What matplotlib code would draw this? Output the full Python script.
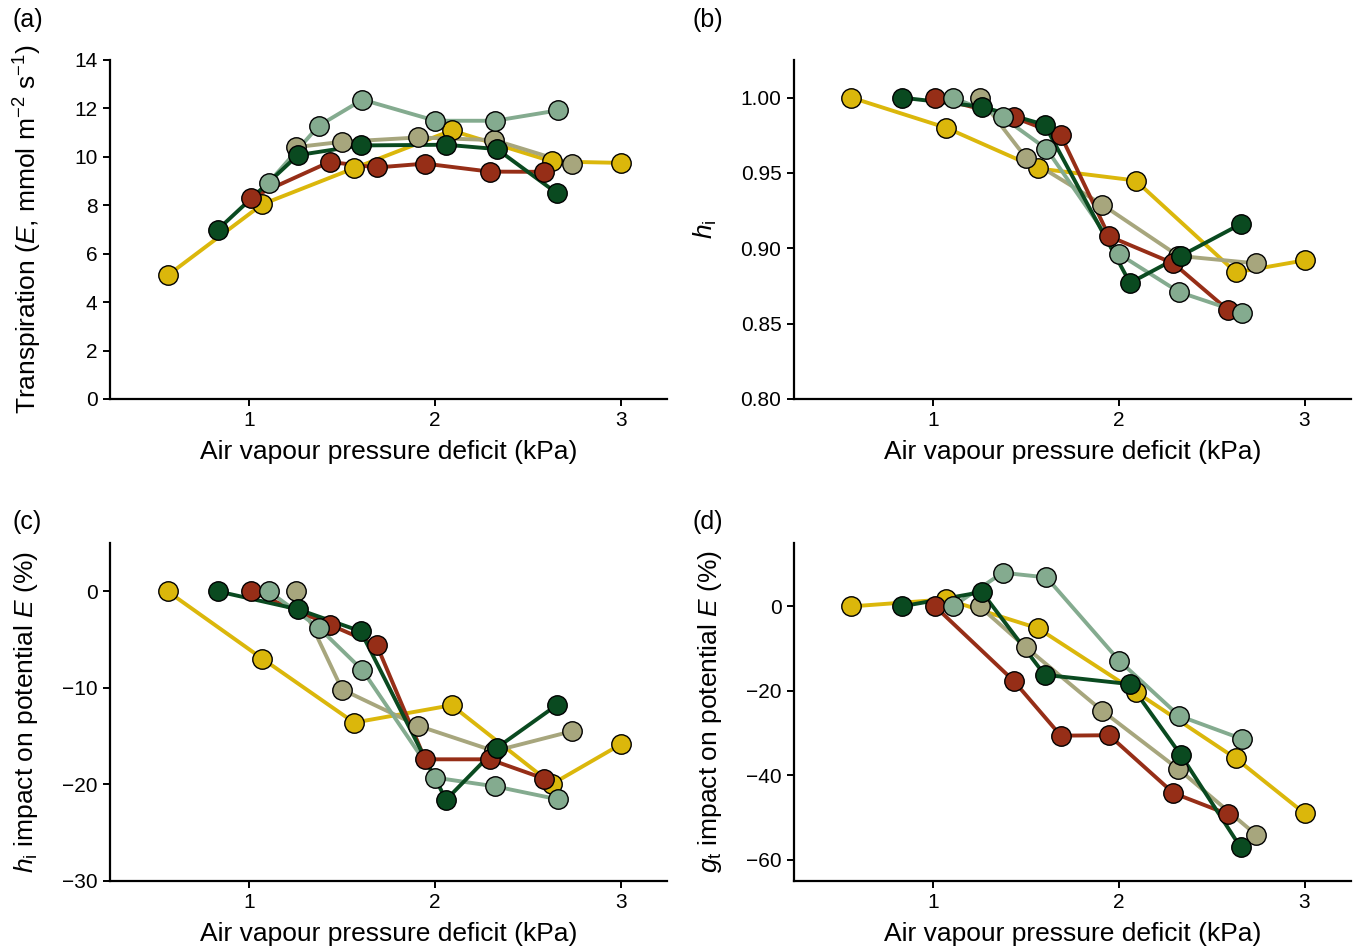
import matplotlib
matplotlib.use("Agg")
import matplotlib.pyplot as plt

plt.rcParams['font.family'] = ['Liberation Sans', 'DejaVu Sans']
plt.rcParams['mathtext.fontset'] = 'custom'
plt.rcParams['mathtext.rm'] = 'Liberation Sans'
plt.rcParams['mathtext.it'] = 'Liberation Sans:italic'

# series colours
seriesColours = ['#dbb70b', '#a7a67d', '#962e17', '#84ab8f', '#0a4a20']

# air vapour pressure deficit (kPa) for each series
vpdYellow = [0.56, 1.07, 1.565, 2.09, 2.63, 3.0]
vpdTan = [1.25, 1.50, 1.91, 2.32, 2.74]
vpdRed = [1.01, 1.433, 1.687, 1.947, 2.294, 2.588]
vpdLight = [1.105, 1.374, 1.61, 2.003, 2.324, 2.664]
vpdDark = [0.83, 1.262, 1.60, 2.06, 2.334, 2.655]

# (a) transpiration
eYellow = [5.10, 8.04, 9.53, 11.09, 9.81, 9.75]
eTan = [10.40, 10.62, 10.80, 10.69, 9.70]
eRed = [8.32, 9.79, 9.56, 9.72, 9.39, 9.38]
eLight = [8.94, 11.28, 12.36, 11.49, 11.49, 11.92]
eDark = [6.99, 10.07, 10.47, 10.50, 10.32, 8.51]

# (b) hi
hYellow = [1.0, 0.980, 0.953, 0.945, 0.884, 0.892]
hTan = [1.0, 0.960, 0.929, 0.895, 0.890]
hRed = [1.0, 0.987, 0.975, 0.908, 0.890, 0.859]
hLight = [1.0, 0.987, 0.966, 0.896, 0.871, 0.857]
hDark = [1.0, 0.994, 0.982, 0.877, 0.895, 0.916]

# (c) hi impact on potential E (%)
cYellow = [0, -6.97, -13.6, -11.8, -19.97, -15.86]
cTan = [0, -10.17, -13.93, -16.55, -14.48]
cRed = [0, -3.45, -5.59, -17.4, -17.4, -19.4]
cLight = [0, -3.76, -8.17, -19.3, -20.2, -21.55]
cDark = [0, -1.86, -4.14, -21.6, -16.2, -11.8]

# (d) gt impact on potential E (%)
dYellow = [0, 1.66, -5.2, -20.2, -36.0, -49.0]
dTan = [0, -9.7, -24.7, -38.5, -54.1]
dRed = [0, -17.6, -30.6, -30.5, -44.2, -49.2]
dLight = [0, 7.97, 6.86, -12.9, -25.9, -31.4]
dDark = [0, 3.4, -16.2, -18.4, -35.2, -57.0]

vpds = [vpdYellow, vpdTan, vpdRed, vpdLight, vpdDark]
panels = [
    ([eYellow, eTan, eRed, eLight, eDark], (0, 14), [0, 2, 4, 6, 8, 10, 12, 14],
     ['0', '2', '4', '6', '8', '10', '12', '14'],
     'Transpiration ($E$, mmol m$^{-2}$ s$^{-1}$)', '(a)'),
    ([hYellow, hTan, hRed, hLight, hDark], (0.80, 1.025), [0.80, 0.85, 0.90, 0.95, 1.00],
     ['0.80', '0.85', '0.90', '0.95', '1.00'],
     '$h_\\mathrm{i}$', '(b)'),
    ([cYellow, cTan, cRed, cLight, cDark], (-30, 5), [-30, -20, -10, 0],
     ['\u221230', '\u221220', '\u221210', '0'],
     '$h_\\mathrm{i}$ impact on potential $E$ (%)', '(c)'),
    ([dYellow, dTan, dRed, dLight, dDark], (-65, 15), [-60, -40, -20, 0],
     ['\u221260', '\u221240', '\u221220', '0'],
     '$g_\\mathrm{t}$ impact on potential $E$ (%)', '(d)'),
]

fig = plt.figure(figsize=(13.56, 9.52), dpi=100)
positions = [
    [0.0811, 0.5809, 0.4108, 0.3561],
    [0.5855, 0.5809, 0.4108, 0.3561],
    [0.0811, 0.0746, 0.4108, 0.3550],
    [0.5855, 0.0746, 0.4108, 0.3550],
]
labelX = [-0.118, -0.135, -0.126, -0.126]
tagPos = [(12, 20), (693, 20), (12, 522), (693, 522)]

for i, (ys, ylim, yticks, yticklabels, ylabel, tag) in enumerate(panels):
    ax = fig.add_axes(positions[i])
    for k in range(len(ys)):
        ax.plot(vpds[k], ys[k], color=seriesColours[k], lw=2.8, zorder=2,
                solid_capstyle='butt')
    for k in range(len(ys)):
        ax.plot(vpds[k], ys[k], 'o', ms=14, mfc=seriesColours[k], mec='black',
                mew=1.0, zorder=3 + k, clip_on=False)
    ax.set_xlim(0.25, 3.25)
    ax.set_ylim(*ylim)
    ax.set_xticks([1, 2, 3])
    ax.set_xticklabels(['1', '2', '3'])
    ax.set_yticks(yticks)
    ax.set_yticklabels(yticklabels)
    for s in ['top', 'right']:
        ax.spines[s].set_visible(False)
    for s in ['left', 'bottom']:
        ax.spines[s].set_linewidth(1.6)
    ax.tick_params(direction='out', length=5, width=1.4, labelsize=15, pad=4,
                   colors='black')
    ax.set_xlabel('Air vapour pressure deficit (kPa)', fontsize=19, labelpad=7)
    ax.set_ylabel(ylabel, fontsize=19)
    ax.yaxis.set_label_coords(labelX[i], 0.5)
    fig.text(tagPos[i][0] / 1356, 1 - tagPos[i][1] / 952, tag,
             fontsize=18, va='center', ha='left')

fig.savefig('out.png', dpi=100)
